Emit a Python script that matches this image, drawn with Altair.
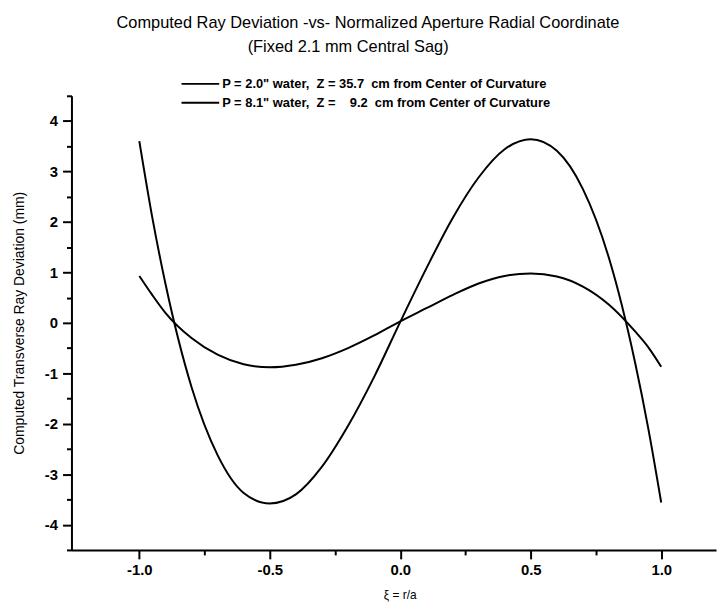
import altair as alt
import pandas as pd

xi = [-1.0, -0.95, -0.9, -0.8, -0.7, -0.6, -0.5, -0.4, -0.3, -0.2, -0.1, 0.0,
      0.1, 0.2, 0.3, 0.4, 0.5, 0.6, 0.7, 0.8, 0.9, 0.95, 1.0]
p_low = [0.93, 0.55, 0.20, -0.30, -0.63, -0.82, -0.88, -0.83, -0.70, -0.50, -0.25, 0.03,
         0.29, 0.55, 0.78, 0.93, 0.98, 0.92, 0.72, 0.36, -0.17, -0.48, -0.87]
p_high = [3.60, 2.08, 0.78, -1.27, -2.62, -3.37, -3.58, -3.40, -2.85, -2.04, -1.07, 0.02,
          1.08, 2.07, 2.88, 3.44, 3.64, 3.41, 2.65, 1.28, -0.79, -2.08, -3.56]
NB = "\u00a0"
series_names = [
    f"P = 2.0\" water,{NB}{NB}Z = 35.7{NB}{NB}cm from Center of Curvature",
    f"P = 8.1\" water,{NB}{NB}Z ={NB}{NB}{NB}{NB}9.2{NB}{NB}cm from Center of Curvature",
]
x_ticks = [-1.0, -0.75, -0.5, -0.25, 0.0, 0.25, 0.5, 0.75, 1.0]
y_ticks = [v / 2 for v in range(-9, 10)]
title_lines = ["Computed Ray Deviation -vs- Normalized Aperture Radial Coordinate",
               "(Fixed 2.1 mm Central Sag)"]

rows = []
for name, vals in zip(series_names, [p_low, p_high]):
    for x, y in zip(xi, vals):
        rows.append({"xi": x, "dev": y, "series": name})
df = pd.DataFrame(rows)

FONT = "Liberation Sans"
major_x = "abs(datum.value*2 - round(datum.value*2)) < 0.001"
major_y = "abs(datum.value - round(datum.value)) < 0.001"
MINUS = "\u2212"

lines = alt.Chart(df).mark_line(strokeWidth=2, interpolate="monotone").encode(
    x=alt.X("xi:Q", scale=alt.Scale(domain=[-1.26, 1.21], nice=False, zero=False),
            axis=alt.Axis(values=x_ticks, title="ξ = r/a",
                          labelExpr=f"{major_x} ? replace(format(datum.value, '.1f'), '{MINUS}', '-') : ''",
                          tickSize={"condition": {"test": major_x, "value": 9}, "value": 5},
                          labelFontSize=15, labelFontWeight="bold", labelPadding=4,
                          titleFontSize=12, titleFontWeight="normal",
                          titleX=331, titleY=45, titleBaseline="middle")),
    y=alt.Y("dev:Q", scale=alt.Scale(domain=[-4.5, 4.5], nice=False, zero=False),
            axis=alt.Axis(values=y_ticks, title="Computed Transverse Ray Deviation (mm)",
                          labelExpr=f"{major_y} ? replace(format(datum.value, 'd'), '{MINUS}', '-') : ''",
                          tickSize={"condition": {"test": major_y, "value": 9}, "value": 5},
                          labelFontSize=15, labelFontWeight="bold", labelPadding=5,
                          titleFontSize=14, titleFontWeight="normal",
                          titleX=-52, titleY=229, titleBaseline="middle")),
    color=alt.Color("series:N",
                    scale=alt.Scale(domain=series_names, range=["black", "black"]),
                    legend=alt.Legend(title=None, orient="none", legendX=110, legendY=-18,
                                      symbolType="stroke", symbolSize=1444,
                                      symbolStrokeWidth=2, labelFontSize=13,
                                      labelFontWeight="bold",
                                      labelFont=FONT, labelColor="black", labelLimit=0,
                                      labelOffset=2, rowPadding=6, clipHeight=12,
                                      padding=0)),
)

title1 = alt.Chart(pd.DataFrame({"t": [title_lines[0]]})).mark_text(
    font=FONT, fontSize=16.5, color="black", align="center", baseline="middle"
).encode(text="t:N", x=alt.value(299), y=alt.value(-73))

title2 = alt.Chart(pd.DataFrame({"t": [title_lines[1]]})).mark_text(
    font=FONT, fontSize=16.5, color="black", align="center", baseline="middle"
).encode(text="t:N", x=alt.value(279), y=alt.value(-49))

chart = alt.layer(lines, title1, title2).properties(
    width=650, height=458,
    autosize=alt.AutoSizeParams(type="none"),
    padding={"left": 64, "top": 86, "right": 2, "bottom": 52},
    background="white",
).configure_view(stroke=None).configure_axis(
    grid=False, domainColor="black", domainWidth=2, tickColor="black", tickWidth=2,
    labelColor="black", titleColor="black", labelFont=FONT, titleFont=FONT,
)

chart.save("out.html", embed_options={"renderer": "svg", "actions": False})
